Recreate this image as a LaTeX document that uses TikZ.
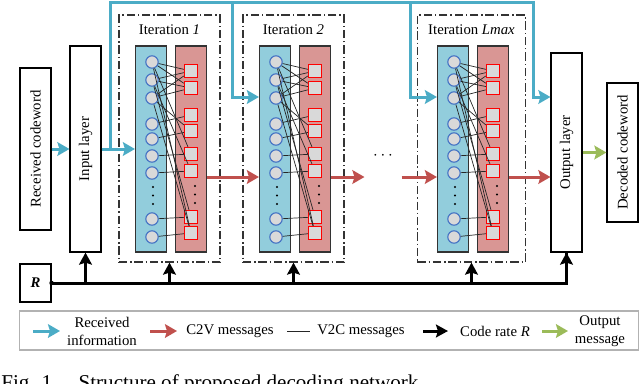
\documentclass[tikz,border=0pt]{standalone}
\usepackage{fontspec}
\setmainfont{Liberation Serif}
\usetikzlibrary{positioning, arrows.meta, calc}

\definecolor{infoblue}{RGB}{75,172,198}
\definecolor{c2vred}{RGB}{192,80,77}
\definecolor{outgreen}{RGB}{155,187,89}
\definecolor{varfill}{RGB}{146,205,220}
\definecolor{chkfill}{RGB}{217,150,148}
\definecolor{nodegray}{RGB}{217,217,217}
\definecolor{circblue}{RGB}{68,114,196}

\tikzset{
	txt/.style={font=\fontsize{10.5}{12.8}\selectfont, inner sep=1pt},
	layerbox/.style={draw, thick, fill=white, inner sep=0pt, minimum width=0.775cm, txt},
	column/.style={draw=black!80, thick, inner sep=0pt, minimum width=0.775cm, minimum height=5.15cm},
	varnode/.style={circle, draw=circblue, thick, fill=nodegray, minimum size=0.31cm, inner sep=0pt},
	chknode/.style={rectangle, draw=red, thick, fill=nodegray, minimum size=0.33cm, inner sep=0pt},
	iterbox/.style={draw=black!80, thick, dash pattern=on 6pt off 2pt on 1pt off 2pt, minimum height=6.175cm, inner sep=0pt},
	v2c/.style={draw=black!85, line width=0.5pt},
	infoarrow/.style={draw=infoblue, line width=0.075cm, -{Stealth[length=0.3cm, width=0.34cm, inset=0.05cm]}},
	infoline/.style={draw=infoblue, line width=0.075cm},
	c2varrow/.style={draw=c2vred, line width=0.075cm, -{Stealth[length=0.3cm, width=0.34cm, inset=0.05cm]}},
	outarrow/.style={draw=outgreen, line width=0.075cm, -{Stealth[length=0.3cm, width=0.34cm, inset=0.05cm]}},
	ratewire/.style={draw=black, line width=0.075cm},
	ratearrow/.style={draw=black, line width=0.075cm, -{Stealth[length=0.3cm, width=0.32cm, inset=0.05cm]}},
}

\begin{document}
\begin{tikzpicture}[x=0.025cm, y=-0.025cm]
	
	% marco de la figura (en pixeles)
	\useasboundingbox (0,0) rectangle (640,383);
	
	% --- 1. CAPAS DE ENTRADA Y SALIDA ---
	\node[layerbox, minimum height=4.05cm] (rc) at (35.5,149) {\rotatebox{90}{Received codeword}};
	\node[layerbox, minimum height=5.15cm] (in) at (85.5,149) {\rotatebox{90}{Input layer}};
	\node[layerbox, minimum height=4.975cm] (out) at (566.5,152.5) {\rotatebox{90}{Output layer}};
	\node[layerbox, minimum height=3.475cm] (dec) at (622.5,152.5) {\rotatebox{90}{Decoded codeword}};
	\node[layerbox, minimum height=0.95cm, font=\fontsize{10.5}{12.8}\selectfont\bfseries\itshape] (R) at (35.5,283) {R};
	
	% --- 2. ITERACIONES ---
	\foreach \k/\dx/\lab/\bw in {1/0/1/2.525cm, 2/124/2/2.525cm, 3/302/Lmax/2.7cm}{
		\node[iterbox, minimum width=\bw] (it-\k) at (169.5+\dx,138.5) {};
		\node[txt] (lab-\k) at (169.5+\dx,30) {Iteration \textit{\lab}};
		\node[column, fill=varfill] (vc-\k) at (151+\dx,149) {};
		\node[column, fill=chkfill] (cc-\k) at (191+\dx,149) {};
		
		% nodos de variable y de chequeo
		\foreach \i/\y in {1/62, 2/80, 3/98, 4/124, 5/139, 6/156, 7/173, 8/219, 9/237}
			\node[varnode] (v-\k-\i) at (152+\dx,\y) {};
		\foreach \j/\y in {1/71, 2/88, 3/115, 4/131, 5/154, 6/171, 7/217, 8/233}
			\node[chknode] (s-\k-\j) at (191+\dx,\y) {};
		
		% mensajes V2C
		\foreach \i/\j in {1/1, 1/2, 1/5, 1/8, 2/1, 2/2, 2/6, 2/7, 3/1, 3/2, 3/4, 3/8,
			4/3, 5/4, 6/5, 7/6, 8/7, 9/8}
			\draw[v2c] (v-\k-\i) -- (s-\k-\j);
		
		% puntos suspensivos
		\foreach \y in {187, 195.5, 204}{
			\fill (153+\dx,\y) circle (0.8pt);
			\fill (195+\dx,\y-1) circle (0.8pt);
		}
	}
	\node[txt, font=\fontsize{12}{14}\selectfont] (more) at (383,156) {$\cdots$};
	
	% --- 3. INFORMACION RECIBIDA ---
	\coordinate (split) at (110,149);
	\coordinate (top) at (533,2);
	\coordinate (feed) at (0,97);
	\coordinate (c2v) at (0,177);
	\draw[infoarrow] (rc) -- (in);
	\draw[infoarrow] (in.east) -- (vc-1.west);
	\draw[infoarrow] (split) |- (top) |- (out.west |- feed);
	\foreach \k in {2,3}
		\draw[infoarrow] ($(vc-\k.west |- top)+(-26,0)$) |- (vc-\k.west |- feed);
	
	% --- 4. MENSAJES C2V ---
	\draw[c2varrow] (cc-1.east |- c2v) -- (vc-2.west |- c2v);
	\draw[c2varrow] (cc-2.east |- c2v) -- ($(more.west |- c2v)+(-7,0)$);
	\draw[c2varrow] ($(more.east |- c2v)+(7,0)$) -- (vc-3.west |- c2v);
	\draw[c2varrow] (cc-3.east |- c2v) -- (out.west |- c2v);
	\draw[outarrow] (out) -- (dec);
	
	% --- 5. TASA DE CODIGO R ---
	\draw[ratewire] (R.east) -| (out.south);
	\draw[ratearrow] (out.south |- R.east) -- (out.south);
	\fill (R.east) circle (1.6pt);
	\foreach \t in {in, it-1, it-2, it-3}
		\draw[ratearrow] (\t.south |- R.east) -- (\t.south);
	
	% --- 6. LEYENDA ---
	\node[draw=black!30, thick, minimum width=15.45cm, minimum height=0.975cm, inner sep=0pt] (legend) at (329,330.5) {};
	\node[txt, align=center] (leg-info) at (102,331) {Received\\information};
	\node[txt] (leg-c2v) at (230,331) {C2V messages};
	\node[txt] (leg-v2c) at (361,331) {V2C messages};
	\node[txt] (leg-rate) at (495,331) {Code rate \textit{R}};
	\node[txt, align=center] (leg-out) at (600,331) {Output\\message};
	\draw[infoarrow] (33,331) -- (60,331);
	\draw[c2varrow] (150,331) -- (177,331);
	\draw[v2c] (287,331) -- (310,331);
	\draw[ratearrow] (423,331) -- (448,331);
	\draw[outarrow] (542,331) -- (568,331);
	
	% --- 7. PIE (cortado por el borde) ---
	\begin{scope}
		\clip (0,0) rectangle (640,383);
		\node[anchor=base west, inner sep=0pt, font=\fontsize{15}{18}\selectfont] (cap) at (1,389) {Fig. 1.\quad Structure of proposed decoding network};
	\end{scope}
	
\end{tikzpicture}
\end{document}
